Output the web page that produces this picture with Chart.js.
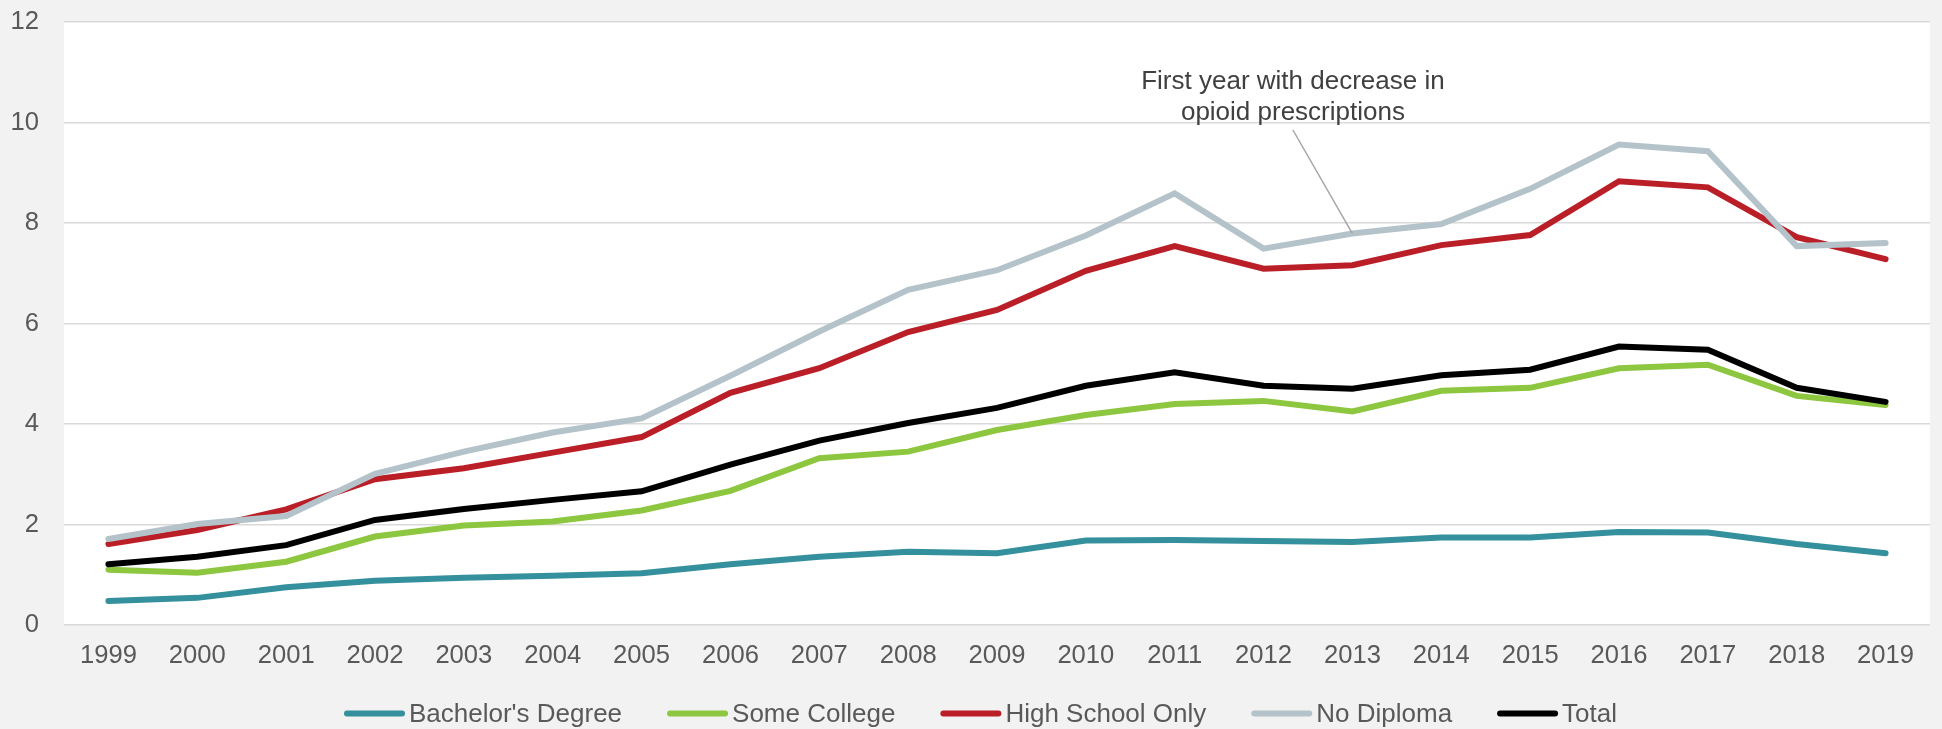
<!DOCTYPE html>
<html>
<head>
<meta charset="utf-8">
<script src="https://cdn.jsdelivr.net/npm/chart.js@4.4.1/dist/chart.umd.min.js"></script>
<style>
  html, body { margin: 0; padding: 0; background: #f2f2f2; overflow: hidden; }
  #wrap { width: 1942px; height: 729px; position: relative; }
  canvas { display: block; }
</style>
</head>
<body>
<div id="wrap"><canvas id="c" width="1942" height="729"></canvas></div>
<script>
// ---- data ----
const years = ['1999','2000','2001','2002','2003','2004','2005','2006','2007','2008','2009','2010','2011','2012','2013','2014','2015','2016','2017','2018','2019'];
const bachelorsDegree = [0.48,0.54,0.75,0.88,0.94,0.98,1.03,1.21,1.36,1.46,1.43,1.68,1.69,1.67,1.65,1.74,1.74,1.85,1.84,1.61,1.43];
const someCollege     = [1.10,1.04,1.26,1.76,1.98,2.06,2.28,2.67,3.32,3.45,3.88,4.18,4.40,4.46,4.25,4.66,4.72,5.11,5.18,4.56,4.38];
const highSchoolOnly  = [1.61,1.89,2.30,2.90,3.12,3.43,3.74,4.62,5.11,5.83,6.27,7.05,7.54,7.09,7.16,7.56,7.76,8.83,8.71,7.72,7.28];
const noDiploma       = [1.71,2.01,2.17,3.01,3.45,3.83,4.11,4.96,5.84,6.67,7.06,7.75,8.59,7.49,7.79,7.98,8.68,9.56,9.43,7.54,7.60];
const total           = [1.21,1.36,1.59,2.09,2.31,2.49,2.66,3.19,3.67,4.02,4.32,4.76,5.03,4.76,4.70,4.97,5.08,5.54,5.48,4.72,4.44];
const seriesNames  = ["Bachelor's Degree", 'Some College', 'High School Only', 'No Diploma', 'Total'];
const seriesColors = ['#33909c', '#8dc63f', '#ba1f28', '#b4c2ca', '#000000'];
const yTickValues = [0, 2, 4, 6, 8, 10, 12];
const annotationLines = ['First year with decrease in', 'opioid prescriptions'];
const annotationYear = '2013';
const annotationSeries = 'No Diploma';

// ---- chart ----
const FONT = "'Liberation Sans', Arial, sans-serif";
const seriesValues = [bachelorsDegree, someCollege, highSchoolOnly, noDiploma, total];

const datasets = seriesNames.map((name, i) => ({
  label: name,
  data: seriesValues[i],
  borderColor: seriesColors[i],
  backgroundColor: seriesColors[i],
  borderWidth: 6,
  pointRadius: 0,
  pointHoverRadius: 0,
  tension: 0,
  borderCapStyle: 'round',
  borderJoinStyle: 'miter',
  order: seriesNames.length - i
}));

const decorPlugin = {
  id: 'decor',
  beforeDraw(chart) {
    const ctx = chart.ctx, a = chart.chartArea;
    ctx.save();
    ctx.fillStyle = '#f2f2f2';
    ctx.fillRect(0, 0, chart.width, chart.height);
    ctx.fillStyle = '#ffffff';
    ctx.fillRect(a.left, a.top, a.right - a.left, a.bottom - a.top);
    ctx.restore();
  },
  afterDraw(chart) {
    const ctx = chart.ctx, a = chart.chartArea;
    // annotation
    const dsIndex = seriesNames.indexOf(annotationSeries);
    const meta = chart.getDatasetMeta(dsIndex);
    const pt = meta.data[years.indexOf(annotationYear)];
    const textX = pt.x - 59.5;
    ctx.save();
    ctx.strokeStyle = '#a6a6a6';
    ctx.lineWidth = 1.5;
    ctx.beginPath();
    ctx.moveTo(textX, a.top + 108);
    ctx.lineTo(pt.x, pt.y);
    ctx.stroke();
    ctx.fillStyle = '#404040';
    ctx.font = '26px ' + FONT;
    ctx.textAlign = 'center';
    ctx.textBaseline = 'alphabetic';
    annotationLines.forEach((t, i) => ctx.fillText(t, textX, a.top + 67 + i * 30.5));
    ctx.restore();

    // legend
    ctx.save();
    ctx.font = '26px ' + FONT;
    const lineLen = 61, gapText = 4, gapItem = 45;
    const widths = seriesNames.map(n => ctx.measureText(n).width);
    const totalW = widths.reduce((s, w) => s + lineLen + gapText + w, 0) + gapItem * (seriesNames.length - 1);
    let x = 980.5 - totalW / 2;
    const y = 713.5;
    seriesNames.forEach((n, i) => {
      ctx.strokeStyle = seriesColors[i];
      ctx.lineWidth = 6;
      ctx.lineCap = 'round';
      ctx.beginPath();
      ctx.moveTo(x + 3, y);
      ctx.lineTo(x + lineLen - 3, y);
      ctx.stroke();
      ctx.fillStyle = '#595959';
      ctx.textAlign = 'left';
      ctx.textBaseline = 'middle';
      ctx.fillText(n, x + lineLen + gapText, y + 1);
      x += lineLen + gapText + widths[i] + gapItem;
    });
    ctx.restore();
  }
};

new Chart(document.getElementById('c'), {
  type: 'line',
  data: { labels: years, datasets },
  options: {
    responsive: false,
    animation: false,
    devicePixelRatio: 1,
    layout: { padding: { left: 10, right: 12, top: 22, bottom: 54 } },
    plugins: {
      legend: { display: false },
      tooltip: { enabled: false }
    },
    scales: {
      x: {
        offset: true,
        grid: { display: false, drawTicks: false },
        border: { display: false },
        ticks: {
          color: '#595959',
          font: { family: FONT, size: 25.6 },
          padding: 16,
          maxRotation: 0,
          autoSkip: false
        },
        afterFit(scale) { scale.height = 50; scale.paddingLeft = 0; scale.paddingRight = 0; }
      },
      y: {
        min: 0,
        max: 12,
        afterBuildTicks(scale) { scale.ticks = yTickValues.map(v => ({ value: v })); },
        grid: { color: '#d9d9d9', lineWidth: 1.4, drawTicks: false },
        border: { display: false },
        ticks: {
          color: '#595959',
          font: { family: FONT, size: 25.6 },
          padding: 25
        },
        afterFit(scale) { scale.width = 54; scale.paddingTop = 0; scale.paddingBottom = 0; }
      }
    }
  },
  plugins: [decorPlugin]
});
</script>
</body>
</html>
